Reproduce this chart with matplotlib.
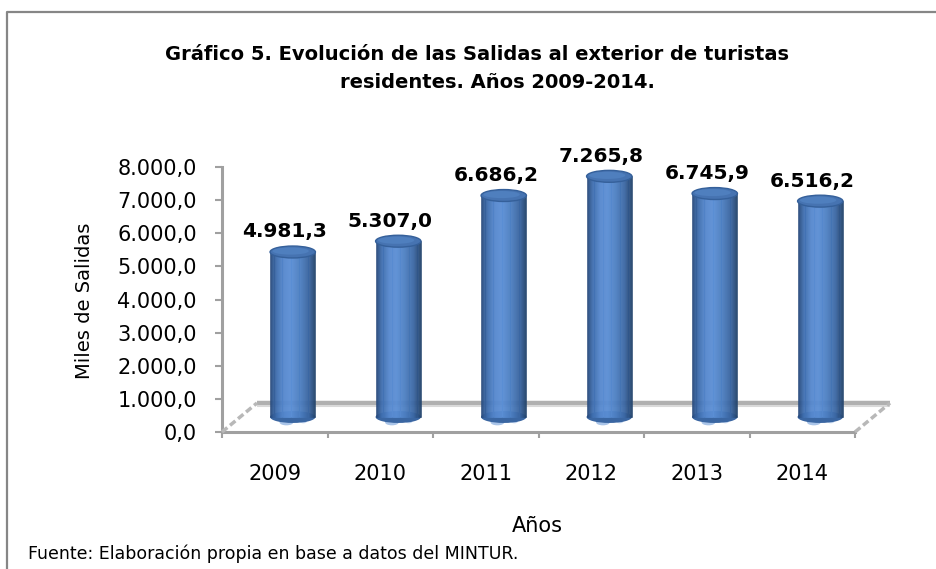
import matplotlib
matplotlib.use('Agg')
import matplotlib.pyplot as plt
import numpy as np
from matplotlib.transforms import ScaledTranslation
from matplotlib.patches import Ellipse
from matplotlib.lines import Line2D
from matplotlib.colors import LinearSegmentedColormap

# data
years = ['2009', '2010', '2011', '2012', '2013', '2014']
salidas = [4981.3, 5307.0, 6686.2, 7265.8, 6745.9, 6516.2]
y_ticks = [0, 1000, 2000, 3000, 4000, 5000, 6000, 7000, 8000]

titulo_1 = 'Gráfico 5. Evolución de las Salidas al exterior de turistas'
titulo_2 = 'residentes. Años 2009-2014.'
fuente = 'Fuente: Elaboración propia en base a datos del MINTUR.'

W, H, DPI = 936, 569, 100


def fx(x):
    return x / W


def fy(y):
    return 1 - y / H


def fmt(v):
    # 4981.3 -> 4.981,3
    s = f"{v:,.1f}"
    return s.replace(',', ' ').replace('.', ',').replace(' ', '.')


plt.rcParams['font.family'] = ['DejaVu Sans']

fig = plt.figure(figsize=(W / DPI, H / DPI), dpi=DPI)
fig.patch.set_facecolor('white')

# outer frame of the chart (only top and left visible)
fig.add_artist(Line2D([fx(7), fx(7), 1.01], [-0.01, fy(12), fy(12)],
                      transform=fig.transFigure, color='#868686', lw=1.6))

# front plane of the 3D plot
ax = fig.add_axes([fx(222), fy(432), fx(855) - fx(222), fy(167) - fy(432)])
ax.set_xlim(0, 6)
ax.set_ylim(0, 8000)
ax.patch.set_alpha(0)


def shifted(dx, dy):
    return ax.transData + ScaledTranslation(dx / DPI, dy / DPI, fig.dpi_scale_trans)


mid = shifted(18, 15)     # depth of the cylinders
back = shifted(35, 29)    # back edge of the floor

# floor slab
ax.plot([0, 6], [0, 0], transform=back, color='#b0b0b0', lw=3.2,
        solid_capstyle='butt', clip_on=False, zorder=1)
ax.plot([0, 6], [0, 0], transform=shifted(35, 26.5), color='#d9d9d9', lw=1.5,
        solid_capstyle='butt', clip_on=False, zorder=1)
fig.canvas.draw()
inv = fig.transFigure.inverted()
for xe in (0, 6):
    p0 = inv.transform(ax.transData.transform((xe, 0)))
    p1 = inv.transform(back.transform((xe, 0)))
    fig.add_artist(Line2D([p0[0], p1[0]], [p0[1], p1[1]], transform=fig.transFigure,
                          color='#b8b8b8', lw=2.5, linestyle=(0, (2, 1)), zorder=1))

# cylinders
bw = 0.43
eh = 360          # ellipse height in data units (about 12 px)
n = 40
cyl = LinearSegmentedColormap.from_list('cyl', [
    (0.0, '#284a7c'), (0.12, '#3e6dae'), (0.3, '#5689cf'), (0.45, '#5b8fd5'),
    (0.65, '#4d7fc2'), (0.85, '#3b67a3'), (1.0, '#25466f')])
strip_cols = cyl(np.linspace(0, 1, n))

for i, v in enumerate(salidas):
    xc = i + 0.5
    # light reflection under the base
    ax.add_patch(Ellipse((xc - 0.06, -eh * 0.45), 0.13, eh * 0.5, transform=mid,
                         facecolor='#a9c4e8', edgecolor='none', clip_on=False, zorder=2))
    ax.add_patch(Ellipse((xc + 0.1, -eh * 0.35), 0.07, eh * 0.35, transform=mid,
                         facecolor='#c3d5ee', edgecolor='none', clip_on=False, zorder=2))
    # bottom of the cylinder
    ax.add_patch(Ellipse((xc, 0), bw, eh, transform=mid, facecolor='#3a66a2',
                         edgecolor='none', clip_on=False, zorder=3))
    # body
    edges = np.linspace(xc - bw / 2, xc + bw / 2, n + 1)
    ax.bar(edges[:-1], [v] * n, width=bw / n, align='edge', color=strip_cols,
           edgecolor=strip_cols, linewidth=0.4, transform=mid, clip_on=False, zorder=4)
    # top cap
    ax.add_patch(Ellipse((xc, v), bw, eh, transform=mid, facecolor='#4673b1',
                         edgecolor='#35609a', lw=1.0, clip_on=False, zorder=5))
    ax.add_patch(Ellipse((xc - 0.02, v + eh * 0.08), bw * 0.8, eh * 0.6, transform=mid,
                         facecolor='#4f7fbe', edgecolor='none', clip_on=False, zorder=5))
    # value label
    ax.text(xc, v, fmt(v), transform=shifted(10, 35), ha='center', va='center',
            fontsize=14.5, fontweight='bold', color='black', zorder=6)

# axes styling
for side in ('top', 'right'):
    ax.spines[side].set_visible(False)
for side in ('left', 'bottom'):
    ax.spines[side].set_color('#a0a0a0')
    ax.spines[side].set_linewidth(2.2)
    ax.spines[side].set_zorder(7)

ax.set_yticks(y_ticks)
ax.set_yticklabels([fmt(t) for t in y_ticks])
ax.tick_params(axis='y', length=5, width=1.5, color='#a0a0a0', pad=13,
               labelsize=15, labelcolor='black')

ax.set_xticks(range(7))
ax.set_xticklabels([])
ax.tick_params(axis='x', which='major', length=4.5, width=1.5, color='#a0a0a0')
ax.set_xticks(np.arange(6) + 0.5, minor=True)
ax.set_xticklabels(years, minor=True)
ax.tick_params(axis='x', which='minor', length=0, pad=23, labelsize=15,
               labelcolor='black')

# texts
fig.text(fx(477), fy(60), titulo_1, ha='center', va='baseline',
         fontsize=14, fontweight='bold')
fig.text(fx(497), fy(88), titulo_2, ha='center', va='baseline',
         fontsize=14, fontweight='bold')
fig.text(fx(84), fy(301), 'Miles de Salidas', rotation=90, ha='center',
         va='center', fontsize=14)
fig.text(fx(537), fy(532), 'Años', ha='center', va='baseline', fontsize=15)
fig.text(fx(28), fy(559), fuente, ha='left', va='baseline', fontsize=12.5)

fig.savefig('out.png', dpi=DPI)
